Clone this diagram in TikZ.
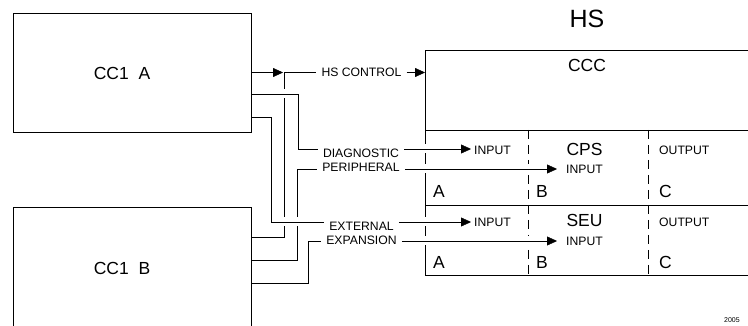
\documentclass[tikz,border=0pt]{standalone}
\usepackage{fontspec}
\setmainfont{Liberation Sans}
\usetikzlibrary{arrows.meta}
\pgfdeclarelayer{fg}
\pgfsetlayers{main,fg}
\begin{document}
\begin{tikzpicture}[x=1pt,y=-1pt,
  line width=2pt,
  box/.style={draw, rectangle, outer sep=0pt, inner sep=0pt, anchor=north west},
  big/.style={font=\fontsize{17.5}{20}\selectfont, inner sep=0pt},
  lbl/.style={font=\fontsize{12.2}{14}\selectfont, inner sep=0pt},
  sig/.style={inner xsep=5pt, inner ysep=0pt, font=\fontsize{12.2}{14}\selectfont},
  arr/.style={-{Triangle[length=10pt,width=9pt]}},
  bridge/.style={preaction={draw=white, line width=9pt, -}},
  divider/.style={dash pattern=on 9pt off 6pt}
]
\useasboundingbox (0,0) rectangle (748,326);

% CC1 boxes (foreground so bridges never cut them)
\begin{pgfonlayer}{fg}
\node[box, minimum width=238pt, minimum height=119pt] (ccA) at (13,13) {};
\node[box, minimum width=238pt, minimum height=140pt] (ccB) at (13,207.5) {};
\end{pgfonlayer}
\node[big] (ccAT) at (122,73) {CC1\ \ A};
\node[big] (ccBT) at (122,268) {CC1\ \ B};

% HS block
\node[font=\fontsize{25}{28}\selectfont, inner sep=0pt] (hsT) at (587,19) {HS};
\coordinate (hsTL) at (425,50);
\coordinate (hsBL) at (425,275);
\draw (760,50) -- (hsTL) -- (hsBL) -- (760,275);
\draw (hsTL |- 0,130) -- (760,130);
\draw (hsTL |- 0,205) -- (760,205);
\draw[divider] (528,130) -- (528,275);
\draw[divider] (648,130) -- (648,275);

\node[big] (cccT) at (587,65) {CCC};
\node[big] (cpsT) at (584.5,149) {CPS};
\node[big] (seuT) at (584.5,220.5) {SEU};
\node[big, anchor=west] (a1) at (433,191) {A};
\node[big, anchor=west] (b1) at (536,191) {B};
\node[big, anchor=west] (c1) at (659,191) {C};
\node[big, anchor=west] (a2) at (433,262) {A};
\node[big, anchor=west] (b2) at (536,262) {B};
\node[big, anchor=west] (c2) at (659,262) {C};

\node[lbl, anchor=west] (in1) at (474,150.5) {INPUT};
\node[lbl, anchor=west] (in2) at (566,169) {INPUT};
\node[lbl, anchor=west] (in3) at (474,222) {INPUT};
\node[lbl, anchor=west] (in4) at (566,241) {INPUT};
\node[lbl, anchor=west] (out1) at (659,150.5) {OUTPUT};
\node[lbl, anchor=west] (out2) at (659,222) {OUTPUT};

% signal labels
\node[sig] (hsctl) at (361.5,72.5) {HS CONTROL};
\node[sig] (diag) at (361,153.5) {DIAGNOSTIC};
\node[sig] (peri) at (361,167.5) {PERIPHERAL};
\node[sig] (ext) at (361.5,226) {EXTERNAL};
\node[sig] (expn) at (361.5,240) {EXPANSION};

% arrow tips
\coordinate (j1) at (284,72.5);
\coordinate (t1) at (471,149);
\coordinate (t2) at (557,169);
\coordinate (t3) at (471,222);
\coordinate (t4) at (557,241);

% left side connectors
\draw[arr] (ccA.east |- j1) -- ([xshift=-1pt]j1);
\draw (ccB.east |- 0,237) -| (j1) -- (hsctl.west |- j1);
\draw (ccB.east |- 0,260) -| (297,169) -- (peri.west |- 0,169);
\draw (ccB.east |- 0,283) -| (308,241) -- (expn.west |- 0,241);
\draw[bridge] (ccA.east |- 0,94) -| (298,149) -- (diag.west |- 0,149);
\draw[bridge] (ccA.east |- 0,117) -| (271,222) -- (ext.west |- 0,222);

% right side connectors
\draw[arr] (hsctl.east |- j1) -- (hsTL |- j1);
\draw[arr, bridge] (diag.east |- t1) -- (t1);
\draw[arr, bridge] (peri.east |- t2) -- (t2);
\draw[arr, bridge] (ext.east |- t3) -- (t3);
\draw[arr, bridge] (expn.east |- t4) -- (t4);

\node[anchor=west, inner sep=0pt, font=\fontsize{7}{8}\selectfont] (num) at (724,320) {2005};
\end{tikzpicture}
\end{document}
